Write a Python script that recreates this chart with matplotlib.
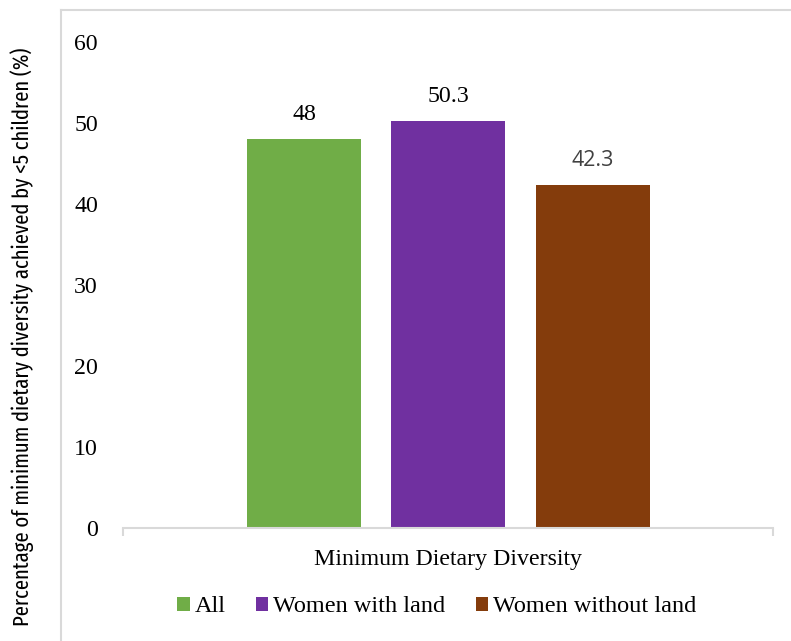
import matplotlib
matplotlib.use('Agg')
import matplotlib.pyplot as plt
from matplotlib.lines import Line2D

# data
category = 'Minimum Dietary Diversity'
groups = ['All', 'Women with land', 'Women without land']
values = [48, 50.3, 42.3]
value_labels = ['48', '50.3', '42.3']
yticks = [0, 10, 20, 30, 40, 50, 60]
ylabel = 'Percentage of minimum dietary diversity achieved by <5 children (%)'

colors = ['#70AD47', '#7030A0', '#843C0C']
label_colors = ['black', 'black', '#404040']
label_fonts = ['Liberation Serif', 'Liberation Serif', 'Open Sans']
grey = '#D9D9D9'
serif = 'Liberation Serif'
fs = 17.2

fig = plt.figure(figsize=(7.91, 6.41), dpi=100)
W, H = 791.0, 641.0
ax = fig.add_axes([123 / W, 113 / H, 650 / W, 486 / H])

offsets = [-0.2215, 0.0, 0.223]
bw = 0.1754
for off, v, c, g in zip(offsets, values, colors, groups):
    ax.bar(off, v, width=bw, color=c, label=g, zorder=2)

# data labels
for off, v, txt, lc, lf in zip(offsets, values, value_labels, label_colors, label_fonts):
    ax.annotate(txt, (off, v), xytext=(0, 10), textcoords='offset points',
                ha='center', va='bottom', fontsize=15.5 if lf == 'Open Sans' else fs,
                color=lc, family=lf)

ax.set_xlim(-0.5, 0.5)
ax.set_ylim(0, 60)

# spines
for s in ['top', 'right', 'left']:
    ax.spines[s].set_visible(False)
ax.spines['bottom'].set_color(grey)
ax.spines['bottom'].set_linewidth(1.5)

# y axis
ax.set_yticks(yticks)
ax.set_yticklabels([str(t) for t in yticks], family=serif, fontsize=fs)
ax.tick_params(axis='y', length=0, pad=18)

# x axis: category label, boundary ticks
ax.set_xticks([0])
ax.set_xticklabels([category], family=serif, fontsize=fs)
ax.tick_params(axis='x', which='major', length=0, pad=15)
ax.set_xticks([-0.5, 0.5], minor=True)
ax.tick_params(axis='x', which='minor', length=6, width=1.5, color=grey)

# legend
leg = fig.legend(loc='center', bbox_to_anchor=(437 / W, 1 - 607 / H), ncol=3,
                 frameon=False, prop={'family': serif, 'size': 17.5},
                 handlelength=0.5, handleheight=0.5, handletextpad=0.2,
                 columnspacing=1.27)

# chart frame (left and top edges visible)
fig.add_artist(Line2D([61 / W, 61 / W], [0, 1 - 10 / H], color=grey, lw=1.5))
fig.add_artist(Line2D([61 / W, 1], [1 - 10 / H, 1 - 10 / H], color=grey, lw=1.5))

# y label, condensed, fitted to its span in the reference
yl = fig.text(22 / W, 1 - 337 / H, ylabel, rotation=90, ha='center', va='center',
              family='Fira Sans Extra Condensed', fontsize=16, color='black')
fig.canvas.draw()
ext = yl.get_window_extent()
yl.set_fontsize(16 * 580.0 / ext.height)

plt.savefig('out.png', dpi=100)
